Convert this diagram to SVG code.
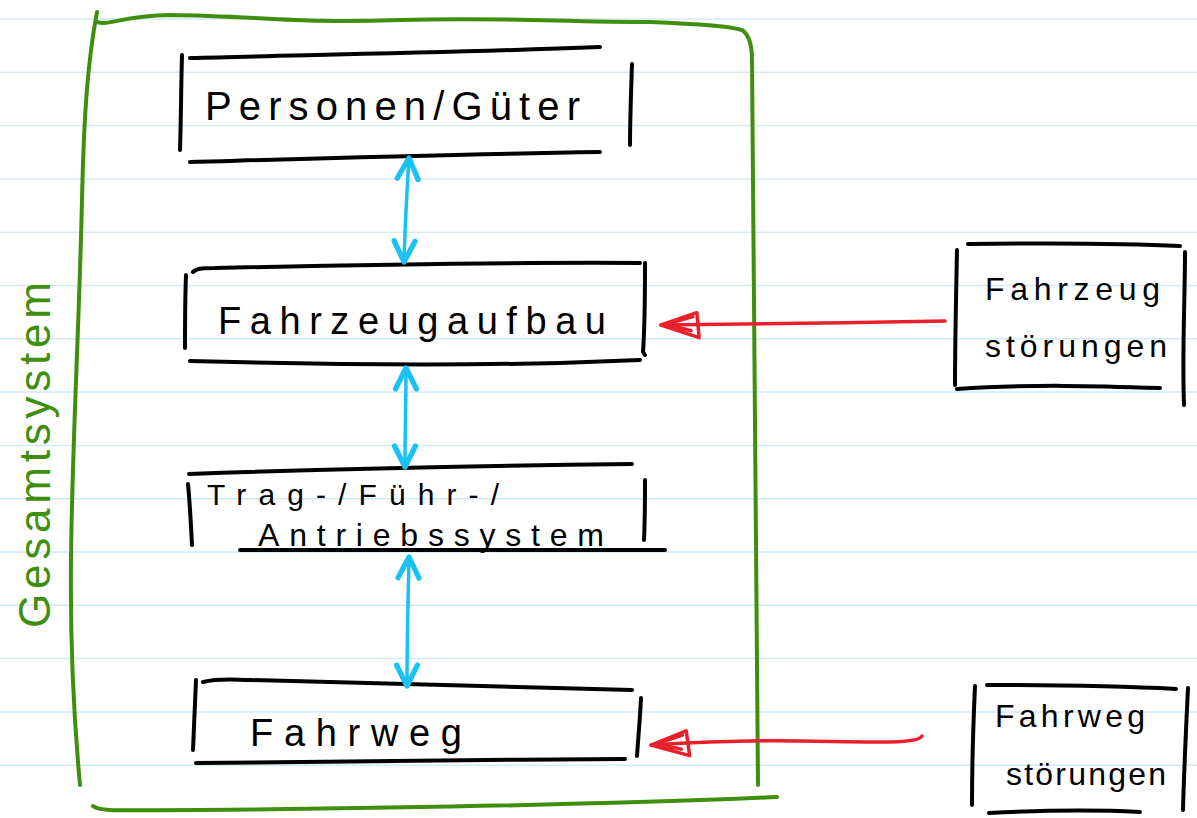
<svg xmlns="http://www.w3.org/2000/svg" width="1197" height="818" viewBox="0 0 1197 818">
  <style>
    .rule { stroke: #d4e9f7; stroke-width: 1.5; }
    .ink { fill: none; stroke: #000; stroke-width: 4; stroke-linecap: round; stroke-linejoin: round; }
    .frame { fill: none; stroke: #3f8e0e; stroke-width: 4; stroke-linecap: round; stroke-linejoin: round; }
    .flow { fill: none; stroke: #19c2f3; stroke-width: 3.5; stroke-linecap: round; }
    .dist { fill: none; stroke: #e8202b; stroke-width: 3.5; stroke-linecap: round; }
    .hand { font-family: "Liberation Sans", Arial, sans-serif; fill: #000; }
    .green { font-family: "Liberation Sans", Arial, sans-serif; fill: #3f8e0e; }
  </style>
  <defs>
    <marker id="vhead" markerUnits="userSpaceOnUse" markerWidth="30" markerHeight="30" refX="0" refY="0" viewBox="-16 -10 20 20" orient="auto-start-reverse" overflow="visible">
      <path d="M-14,-7 L0,0 L-14,7" fill="none" stroke="#19c2f3" stroke-width="3.5" stroke-linecap="round" stroke-linejoin="round"/>
    </marker>
    <marker id="redhead" markerUnits="userSpaceOnUse" markerWidth="50" markerHeight="40" refX="0" refY="0" viewBox="-40 -20 45 40" orient="auto" overflow="visible">
      <path d="M0,0 L-38,-13 L-36,12 Z M-8,0 L-30,-6 M-10,2 L-32,8" fill="none" stroke="#e8202b" stroke-width="3.5" stroke-linecap="round" stroke-linejoin="round"/>
    </marker>
  </defs>

  <rect width="1197" height="818" fill="#fff"/>

  <!-- ruled paper -->
  <g id="paper">
    <line class="rule" x1="0" y1="19" x2="1197" y2="19"/>
    <line class="rule" x1="0" y1="72.3" x2="1197" y2="72.3"/>
    <line class="rule" x1="0" y1="125.6" x2="1197" y2="125.6"/>
    <line class="rule" x1="0" y1="179" x2="1197" y2="179"/>
    <line class="rule" x1="0" y1="232.2" x2="1197" y2="232.2"/>
    <line class="rule" x1="0" y1="285.5" x2="1197" y2="285.5"/>
    <line class="rule" x1="0" y1="338.8" x2="1197" y2="338.8"/>
    <line class="rule" x1="0" y1="392" x2="1197" y2="392"/>
    <line class="rule" x1="0" y1="445.4" x2="1197" y2="445.4"/>
    <line class="rule" x1="0" y1="498.7" x2="1197" y2="498.7"/>
    <line class="rule" x1="0" y1="552" x2="1197" y2="552"/>
    <line class="rule" x1="0" y1="605.3" x2="1197" y2="605.3"/>
    <line class="rule" x1="0" y1="658.6" x2="1197" y2="658.6"/>
    <line class="rule" x1="0" y1="712" x2="1197" y2="712"/>
    <line class="rule" x1="0" y1="765.2" x2="1197" y2="765.2"/>
  </g>

  <!-- overall system boundary -->
  <g id="gesamtsystem">
    <path class="frame" d="M97,12 C88,60 84,110 82,200 C79,330 72,450 71,560 C70,650 74,720 80,785"/>
    <path class="frame" d="M97,22 C110,26 120,16 170,15 C260,16 300,24 400,20 C500,17 560,22 650,22 C700,24 730,26 742,30 C748,34 752,42 752,60 C754,250 756,500 758,785"/>
    <path class="frame" d="M93,806 C100,812 120,810 200,810 C400,808 600,805 777,797"/>
    <text class="green" font-size="44" letter-spacing="4" transform="translate(50,628) rotate(-90)" textLength="350" lengthAdjust="spacing">Gesamtsystem</text>
  </g>

  <g id="personen-gueter">
    <path class="ink" d="M182,55 C181,90 181,120 180,150"/>
    <path class="ink" d="M190,58 C300,55 450,53 600,47"/>
    <path class="ink" d="M632,64 C631,95 630,120 630,145"/>
    <path class="ink" d="M190,162 C330,158 460,154 600,152"/>
    <text class="hand" x="205" y="120" font-size="40" textLength="375" lengthAdjust="spacing">Personen/Güter</text>
  </g>

  <g id="fahrzeugaufbau">
    <path class="ink" d="M186,275 C185,300 185,325 185,348"/>
    <path class="ink" d="M193,272 C197,268 205,268 215,268 C350,265 500,262 640,263"/>
    <path class="ink" d="M645,263 C645,295 645,325 643,352 L645,355"/>
    <path class="ink" d="M190,361 C300,364 420,366 560,363 L640,360"/>
    <text class="hand" x="218" y="334" font-size="38" textLength="388" lengthAdjust="spacing">Fahrzeugaufbau</text>
  </g>

  <g id="trag-fuehr-antriebssystem">
    <path class="ink" d="M189,474 C300,470 450,466 632,464"/>
    <path class="ink" d="M188,484 C190,505 191,525 192,545"/>
    <path class="ink" d="M645,480 C645,500 645,520 644,540"/>
    <path class="ink" d="M240,550 C380,550 520,550 665,550"/>
    <text class="hand" x="207" y="505" font-size="30" textLength="292" lengthAdjust="spacing">Trag-/Führ-/</text>
    <text class="hand" x="258" y="546" font-size="32" textLength="346" lengthAdjust="spacing">Antriebssystem</text>
  </g>

  <g id="fahrweg">
    <path class="ink" d="M196,680 C195,705 194,728 193,750"/>
    <path class="ink" d="M203,682 C220,678 235,680 250,680 C400,683 520,686 632,690"/>
    <path class="ink" d="M641,698 C640,720 638,740 637,756"/>
    <path class="ink" d="M196,763 C330,761 480,760 625,759"/>
    <text class="hand" x="250" y="746" font-size="38" letter-spacing="8" textLength="220" lengthAdjust="spacing">Fahrweg</text>
  </g>

  <g id="fahrzeugstoerungen">
    <path class="ink" d="M957,250 C956,300 955,345 955,385"/>
    <path class="ink" d="M968,244 C1050,243 1120,243 1180,246"/>
    <path class="ink" d="M1185,252 C1185,300 1182,350 1184,405"/>
    <path class="ink" d="M957,389 C1030,384 1100,386 1160,388"/>
    <text class="hand" x="985" y="300" font-size="32" textLength="175" lengthAdjust="spacing">Fahrzeug</text>
    <text class="hand" x="985" y="357" font-size="32" textLength="182" lengthAdjust="spacing">störungen</text>
  </g>

  <g id="fahrwegstoerungen">
    <path class="ink" d="M975,686 C973,730 972,770 972,805"/>
    <path class="ink" d="M987,685 C1060,685 1120,686 1176,689"/>
    <path class="ink" d="M1188,688 C1186,730 1184,770 1183,810"/>
    <path class="ink" d="M989,813 C1050,810 1100,810 1140,812"/>
    <text class="hand" x="995" y="727" font-size="32" textLength="150" lengthAdjust="spacing">Fahrweg</text>
    <text class="hand" x="1006" y="785" font-size="32" textLength="160" lengthAdjust="spacing">störungen</text>
  </g>

  <!-- connectors -->
  <g id="connectors">
    <path class="flow" d="M409,158 C407,190 405,225 404,262" marker-start="url(#vhead)" marker-end="url(#vhead)"/>
    <path class="flow" d="M406,368 C406,400 405,430 405,467" marker-start="url(#vhead)" marker-end="url(#vhead)"/>
    <path class="flow" d="M409,557 C408,600 407,640 407,686" marker-start="url(#vhead)" marker-end="url(#vhead)"/>
    <path class="dist" d="M945,321 C850,323 760,324 661,325" marker-end="url(#redhead)"/>
    <path class="dist" d="M922,736 C918,744 880,742 800,741 C740,740 700,742 651,745" marker-end="url(#redhead)"/>
  </g>
</svg>
